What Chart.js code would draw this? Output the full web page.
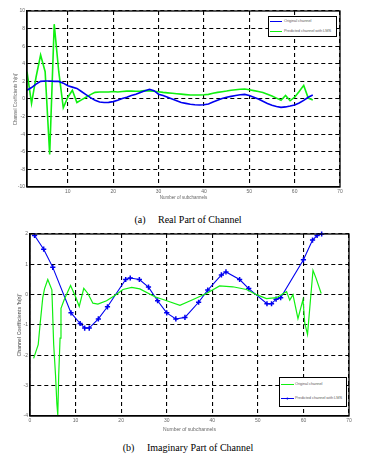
<!DOCTYPE html>
<html><head><meta charset="utf-8">
<script src="https://cdn.jsdelivr.net/npm/chart.js@4"></script>
<style>
html,body{margin:0;padding:0;background:#fff;}
body{width:376px;height:458px;overflow:hidden;position:relative;font-family:"Liberation Sans",Arial,sans-serif}
canvas{position:absolute;left:0}
#w1{position:absolute;left:0;top:0;width:376px;height:200px}
#w2{position:absolute;left:0;top:226px;width:376px;height:210px}
.cap{position:absolute;left:0;width:376px;text-align:center;font-family:"Liberation Serif","Times New Roman",serif;font-size:10px;line-height:12px;color:#000;white-space:pre}
.leg{position:absolute;background:#fff;border:1.3px solid #000;box-sizing:border-box;overflow:hidden}
.li{position:absolute;white-space:nowrap;font-size:4px;line-height:5px;color:#666;letter-spacing:-0.1px}
.sw{position:absolute;height:0}
.mk{position:absolute;font-size:6px;line-height:6px;font-weight:bold}
</style></head>
<body>
<div id="w1"><canvas id="c1" width="376" height="200"></canvas></div>
<div class="cap" style="top:214px">(a)     Real Part of Channel</div>
<div id="w2"><canvas id="c2" width="376" height="210"></canvas></div>
<div class="cap" style="top:442px">(b)     Imaginary Part of Channel</div>
<div id="leg1" class="leg" style="left:268px;top:16px;width:69px;height:21px"></div>
<div id="leg2" class="leg" style="left:279px;top:377px;width:68px;height:30px"></div>
<script>
// ---------- DATA ----------
const subch = [1,2,3,4,5,6,7,8,9,10,11,12,13,14,15,16,17,18,19,20,21,22,23,24,25,26,27,28,29,30,31,32,33,34,35,36,37,38,39,40,41,42,43,44,45,46,47,48,49,50,51,52,53,54,55,56,57,58,59,60,61,62,63,64];
const realOriginal = [1.0,1.3,1.7,2.0,2.05,2.05,2.0,2.0,1.8,1.5,1.35,1.2,0.85,0.5,0.15,-0.15,-0.35,-0.4,-0.38,-0.3,-0.15,0.05,0.2,0.4,0.55,0.75,0.95,1.1,0.95,0.55,0.4,0.2,0.0,-0.2,-0.4,-0.5,-0.6,-0.66,-0.68,-0.65,-0.57,-0.35,-0.15,0.05,0.2,0.3,0.4,0.48,0.52,0.4,0.2,0.0,-0.25,-0.5,-0.7,-0.85,-0.95,-0.9,-0.8,-0.68,-0.45,-0.15,0.2,0.45];
const realPredicted = [3.1,-0.5,2.5,5.0,3.1,-6.3,8.5,3.1,-1.0,0.2,1.0,-0.4,-0.1,0.2,0.5,0.75,0.8,0.8,0.8,0.85,0.8,0.85,0.9,0.9,0.88,0.9,0.95,0.92,0.88,0.83,0.75,0.7,0.65,0.6,0.55,0.5,0.45,0.45,0.45,0.48,0.53,0.65,0.75,0.83,0.9,1.0,1.05,1.1,1.14,1.05,0.95,0.85,0.75,0.55,0.35,0.1,-0.15,0.4,-0.2,0.2,0.85,1.55,0.1,-0.1];
const imagOrigX = [0.8,1.8,2.2,2.8,3.2,3.9,4.8,5.2,5.6,5.9,6.1,6.3,6.6,6.8,7.5,8.9,10,10.8,11.8,12.7,13.8,14.9,16.8,18.7,20.4,22.3,24.1,27.4,30,32.9,35.8,38.7,41.6,44.5,47.5,49.7,51.9,54.1,55.5,56.3,57,57.7,58.8,59.9,60.3,60.9,61.6,62.1,62.8,63.9];
const imagOrigY = [-2.1,-1.65,-1.0,-0.1,0.2,0.5,0.16,-1.65,-2.65,-3.6,-3.97,-2.65,-1.43,-0.45,-0.17,0.3,-0.07,-0.39,0.21,0.04,-0.28,-0.31,-0.2,-0.02,0.17,0.24,0.19,-0.07,-0.2,-0.35,-0.16,0.04,0.29,0.26,0.17,0,-0.13,-0.1,0.03,0.1,-0.18,0,-0.79,-0.16,-0.95,-1.31,-0.07,0.8,0.53,0.04];
const imagPredX = [1,3,5,9,11,12,13,15,17,21,22,24,26,28,30,32,34,37,39,42,43,46,48,52,53,54,55,60,62,63,64];
const imagPredY = [1.95,1.5,0.9,-0.6,-0.95,-1.1,-1.1,-0.8,-0.4,0.5,0.55,0.5,0.25,-0.2,-0.6,-0.8,-0.75,-0.25,0.15,0.65,0.75,0.5,0.2,-0.3,-0.3,-0.15,-0.1,1.15,1.8,1.95,2.0];
const xTicksTop = [10,20,30,40,50,60,70];
const yTicksTop = [-10,-8,-6,-4,-2,0,2,4,6,8,10];
const xTicksBot = [0,10,20,30,40,50,60,70];
const yTicksBot = [-4,-3,-2,-1,0,1,2];
const legendTop = ['Original channel','Predicted channel with LMS'];
const legendBot = ['Original channel','Predicted channel with LMS'];
const xTitle = 'Number of subchannels';
const yTitle = "Channel Coefficients 'h(n)'";

const BLUE = '#0000f0', GREEN = '#10f010';
const pts = (xs, ys) => xs.map((x,i)=>({x:x,y:ys[i]}));

const frame = {id:'frame', afterDraw(c){const a=c.chartArea,x=c.ctx;x.save();x.strokeStyle='#000';x.lineWidth=1.3;x.strokeRect(a.left,a.top,a.right-a.left,a.bottom-a.top);x.restore();}};

function axis(min,max,ticks,fitKey,fitVal,titleOpts,tickPad){
  return {
    type:'linear', min:min, max:max,
    afterBuildTicks(s){ s.ticks = ticks.map(v=>({value:v})); },
    afterFit(s){ s[fitKey]=fitVal; },
    grid:{color:'#000', lineWidth:1.1, drawTicks:false},
    border:{display:true, color:'#000', width:1.3, dash:[4,3]},
    ticks:{font:{family:'Liberation Sans',size:5}, color:'#666', padding:tickPad, autoSkip:false, maxRotation:0},
    title:titleOpts
  };
}

new Chart(document.getElementById('c1'), {
  type:'line',
  data:{datasets:[
    {label:legendTop[0], data:pts(subch,realOriginal), borderColor:BLUE, borderWidth:1.6, pointRadius:0, tension:0},
    {label:legendTop[1], data:pts(subch,realPredicted), borderColor:GREEN, borderWidth:1.6, pointRadius:0, tension:0}
  ]},
  options:{
    responsive:false, animation:false, devicePixelRatio:1,
    layout:{padding:{left:0,right:36,top:11,bottom:0}},
    plugins:{legend:{display:false}, tooltip:{enabled:false}},
    scales:{
      x: axis(1,70,xTicksTop,'height',13,{display:true,text:xTitle,font:{family:'Liberation Sans',size:4.5},color:'#666',padding:{top:0,bottom:0}},2),
      y: axis(-10,10,yTicksTop,'width',27,{display:true,text:yTitle,font:{family:'Liberation Sans',size:4.5},color:'#666',padding:{top:13,bottom:0}},2)
    }
  },
  plugins:[frame]
});

new Chart(document.getElementById('c2'), {
  type:'line',
  data:{datasets:[
    {label:legendBot[0], data:pts(imagOrigX,imagOrigY), borderColor:GREEN, borderWidth:1.2, pointRadius:0, tension:0},
    {label:legendBot[1], data:pts(imagPredX,imagPredY), borderColor:BLUE, borderWidth:1.1, pointStyle:'cross', pointRadius:2.6, pointBorderWidth:1.5, pointBorderColor:BLUE, pointBackgroundColor:BLUE, tension:0, clip:false}
  ]},
  options:{
    responsive:false, animation:false, devicePixelRatio:1,
    layout:{padding:{left:0,right:27,top:8,bottom:0}},
    plugins:{legend:{display:false}, tooltip:{enabled:false}},
    scales:{
      x: axis(0,70,xTicksBot,'height',20,{display:true,text:xTitle,font:{family:'Liberation Sans',size:5},color:'#666',padding:{top:0,bottom:3}},1.5),
      y: axis(-4,2,yTicksBot,'width',30,{display:true,text:yTitle,font:{family:'Liberation Sans',size:5,weight:'bold'},color:'#777',padding:{top:17,bottom:0}},2)
    }
  },
  plugins:[frame]
});

// HTML legends
function buildLegend(id, names, colors, marks, rows, swX, swW, txX){
  const el = document.getElementById(id);
  names.forEach((n,i)=>{
    const y = rows[i];
    const sw = document.createElement('div'); sw.className='sw';
    sw.style.cssText = `left:${swX}px;top:${y}px;width:${swW}px;border-top:1.4px solid ${colors[i]}`;
    el.appendChild(sw);
    if(marks[i]){ const m=document.createElement('div'); m.className='mk'; m.textContent=marks[i]; m.style.cssText=`left:${swX+swW/2-2}px;top:${y-3}px;color:${colors[i]}`; el.appendChild(m); }
    const t = document.createElement('div'); t.className='li'; t.textContent=n;
    t.style.cssText = `left:${txX}px;top:${y-2.5}px`;
    el.appendChild(t);
  });
}
buildLegend('leg1', legendTop, [BLUE,GREEN], ['',''], [3.5,13.5], 1, 12, 15);
buildLegend('leg2', legendBot, [GREEN,BLUE], ['','+'], [5.5,19.5], 1, 13, 15);
</script>
</body></html>
